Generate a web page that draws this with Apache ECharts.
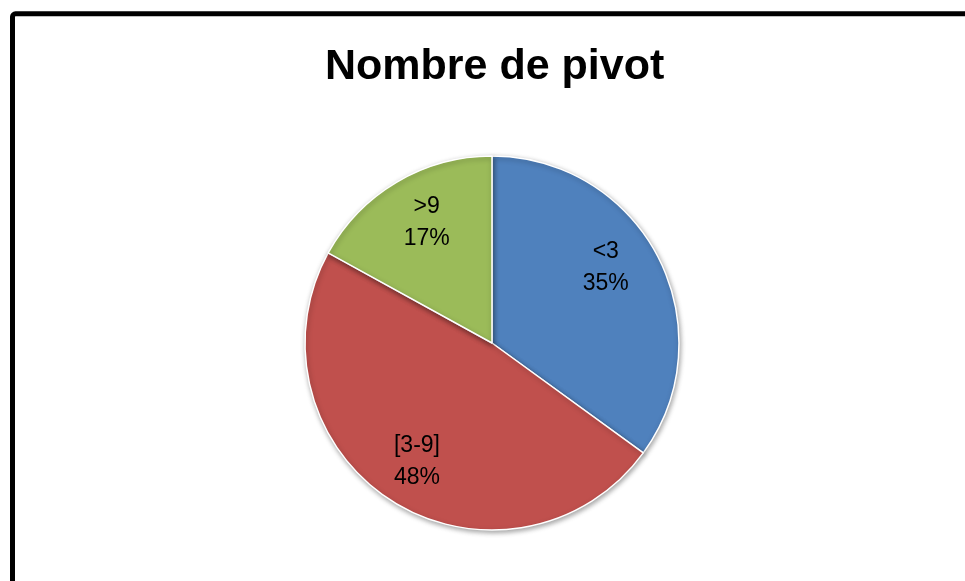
<!DOCTYPE html>
<html>
<head>
<meta charset="utf-8">
<script src="https://cdn.jsdelivr.net/npm/echarts@6/dist/echarts.min.js"></script>
<style>
html,body{margin:0;padding:0;background:#fff;}
#chart{width:965px;height:581px;}
</style>
</head>
<body>
<div id="chart"></div>
<script>
const titleText = "Nombre de pivot";
const categories = ["<3", "[3-9]", ">9"];
const values = [35, 48, 17];
const colors = ["#4F81BD", "#C0504D", "#9BBB59"];
const labelOffsets = [[-11, -12], [0, 0], [6, 0]];

const chart = echarts.init(document.getElementById('chart'), null, {renderer: 'canvas'});
const pieData = categories.map((c, i) => ({name: c, value: values[i], itemStyle: {color: colors[i]}}));
const labelData = categories.map((c, i) => ({name: c, value: values[i], label: {offset: labelOffsets[i]}}));

chart.setOption({
  backgroundColor: '#ffffff',
  animation: false,
  title: {
    text: titleText,
    left: 320,
    top: 41,
    padding: 5,
    textStyle: {fontFamily: 'Liberation Sans', fontWeight: 'bold', fontSize: 43, color: '#000'}
  },
  graphic: [{
    type: 'rect',
    shape: {x: 12.5, y: 13.8, width: 1100, height: 1100, r: 3},
    style: {fill: null, stroke: '#000', lineWidth: 5},
    silent: true,
    z: 100
  }],
  series: [{
    type: 'pie',
    center: [492, 343],
    radius: [0, 187],
    startAngle: 90,
    clockwise: true,
    data: pieData,
    label: {show: false},
    labelLine: {show: false},
    itemStyle: {borderColor: '#fff', borderWidth: 1.5, shadowBlur: 5, shadowColor: 'rgba(0,0,0,0.35)', shadowOffsetX: 1, shadowOffsetY: 2},
    silent: true
  }, {
    type: 'pie',
    center: [492, 343],
    radius: [87, 187],
    startAngle: 90,
    clockwise: true,
    data: labelData,
    itemStyle: {color: 'rgba(0,0,0,0)', borderWidth: 0},
    label: {
      show: true,
      position: 'inside',
      formatter: p => p.name + '\n' + Math.round(p.percent) + '%',
      fontFamily: 'Liberation Sans',
      fontSize: 23,
      lineHeight: 32,
      color: '#000'
    },
    labelLine: {show: false},
    silent: true,
    z: 3
  }]
});
</script>
</body>
</html>
